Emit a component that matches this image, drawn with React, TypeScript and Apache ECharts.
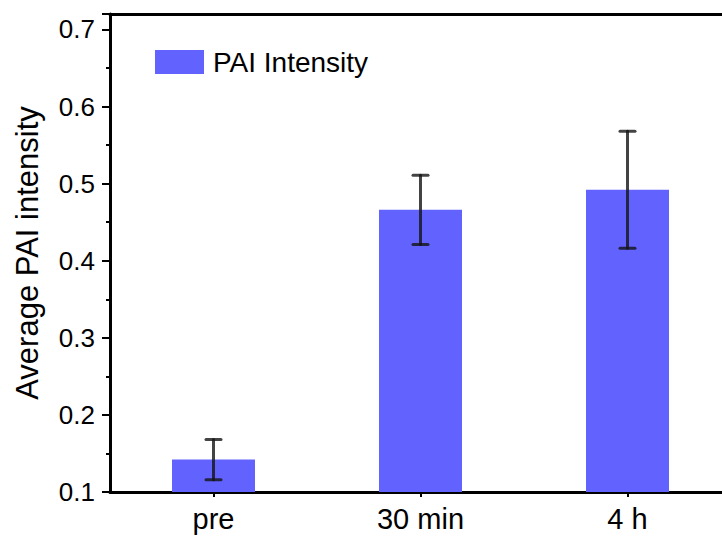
import React, { useEffect, useRef } from "react";
import * as echarts from "echarts";

const categories = ["pre", "30 min", "4 h"];
const meanValues = [0.142, 0.466, 0.492];
const errorValues = [0.026, 0.045, 0.076];
const yTicks = [0.1, 0.2, 0.3, 0.4, 0.5, 0.6, 0.7];
const seriesName = "PAI Intensity";
const yAxisTitle = "Average PAI intensity";

export default function App() {
  const ref = useRef<HTMLDivElement>(null);
  useEffect(() => {
    if (!ref.current) return;
    const chart = echarts.init(ref.current, undefined, { renderer: "svg" });
    const font = "Liberation Sans, Arial, sans-serif";
    const idx = categories.map((_, i) => i);
    const barData = categories.map((_, i) => [i, meanValues[i]]);
    const errData = categories.map((_, i) => [i, meanValues[i] - errorValues[i], meanValues[i] + errorValues[i]]);
    // visible x range: category band of 207px, plot cut at right edge of the page
    const xMin = -0.5;
    const xMax = -0.5 + 612 / 207;
    chart.setOption({
      animation: false,
      backgroundColor: "#ffffff",
      grid: { left: 110, top: 14, right: 0, bottom: 49, containLabel: false },
      legend: {
        show: true,
        data: [seriesName],
        left: 150,
        top: 43,
        itemWidth: 49,
        itemHeight: 24,
        itemGap: 8,
        icon: "rect",
        textStyle: { fontFamily: font, fontSize: 28, color: "#000", padding: [0, 0, 0, 4] },
      },
      xAxis: [
        {
          type: "value",
          min: xMin,
          max: xMax,
          splitLine: { show: false },
          axisLine: { show: true, onZero: false, lineStyle: { color: "#000", width: 3 } },
          axisTick: { show: true, customValues: idx, length: 5, lineStyle: { color: "#000", width: 2 } },
          axisLabel: {
            customValues: idx,
            fontFamily: font,
            fontSize: 29,
            color: "#000",
            margin: 12,
            showMinLabel: true,
            showMaxLabel: true,
            formatter: (v: number) => categories[Math.round(v)] ?? "",
          },
        },
        {
          type: "value",
          min: xMin,
          max: xMax,
          position: "top",
          splitLine: { show: false },
          axisLine: { show: true, onZero: false, lineStyle: { color: "#000", width: 3 } },
          axisTick: { show: false },
          axisLabel: { show: false },
        },
      ],
      yAxis: {
        type: "value",
        min: 0.1,
        max: 0.72,
        interval: 0.1,
        name: yAxisTitle,
        nameLocation: "middle",
        nameGap: 67,
        nameTextStyle: { fontFamily: font, fontSize: 31, color: "#000" },
        axisLine: { show: true, onZero: false, lineStyle: { color: "#000", width: 3 } },
        axisTick: { show: true, inside: false, length: 8, lineStyle: { color: "#000", width: 2 } },
        minorTick: { show: true, splitNumber: 2, length: 4, lineStyle: { color: "#000", width: 2 } },
        axisLabel: {
          fontFamily: font,
          fontSize: 26,
          color: "#000",
          margin: 15,
          formatter: (v: number) => {
            const t = yTicks.find((x) => Math.abs(x - v) < 1e-6);
            return t !== undefined ? t.toFixed(1) : "";
          },
        },
        splitLine: { show: false },
      },
      series: [
        {
          name: seriesName,
          type: "bar",
          data: barData,
          barWidth: 83,
          itemStyle: { color: "#6262ff" },
        },
        {
          type: "custom",
          name: "err",
          data: errData,
          z: 10,
          encode: { x: 0, y: [1, 2] },
          renderItem: (params: any, api: any) => {
            const i = api.value(0);
            const lo = api.coord([i, api.value(1)]);
            const hi = api.coord([i, api.value(2)]);
            const half = 7.5;
            const style = { stroke: "rgba(20,20,20,0.8)", lineWidth: 3, lineCap: "round" };
            return {
              type: "group",
              children: [
                { type: "line", shape: { x1: lo[0], y1: lo[1], x2: hi[0], y2: hi[1] }, style },
                { type: "line", shape: { x1: lo[0] - half, y1: lo[1], x2: lo[0] + half, y2: lo[1] }, style },
                { type: "line", shape: { x1: hi[0] - half, y1: hi[1], x2: hi[0] + half, y2: hi[1] }, style },
              ],
            };
          },
        },
      ],
    });
    return () => chart.dispose();
  }, []);
  return <div ref={ref} style={{ width: 722, height: 541, position: "absolute", left: 0, top: 0 }} />;
}
